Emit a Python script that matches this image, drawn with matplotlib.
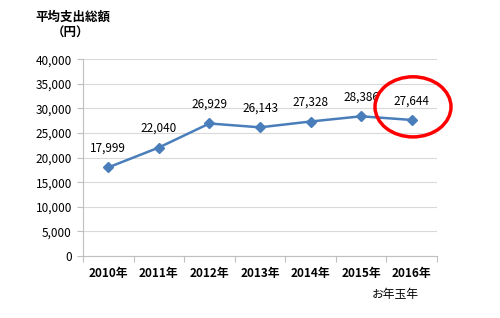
import matplotlib
matplotlib.use("Agg")
import matplotlib.pyplot as plt
from matplotlib.patches import Ellipse
from matplotlib.ticker import FuncFormatter

plt.rcParams['font.family'] = ['Noto Sans CJK JP', 'DejaVu Sans']

categories = ["2010年", "2011年", "2012年", "2013年", "2014年", "2015年", "2016年"]
values = [17999, 22040, 26929, 26143, 27328, 28386, 27644]
yticks = [0, 5000, 10000, 15000, 20000, 25000, 30000, 35000, 40000]
title = "平均支出総額"
unit = "（円）"
note = "お年玉年"

fig = plt.figure(figsize=(5, 3.18), dpi=100)
ax = fig.add_axes([0.166, 0.195, 0.708, 0.619])

x = list(range(len(categories)))
ax.plot(x, values, color="#4a7ebb", lw=1.8, marker="D", ms=5.5,
        markerfacecolor="#4a7ebb", markeredgecolor="#4a7ebb", zorder=3)
for xi, v in zip(x, values):
    ax.annotate(f"{v:,}", (xi, v), xytext=(0, 9), textcoords="offset points",
                ha="center", va="bottom", fontsize=8.5, color="#000000")

ax.set_xlim(-0.5, len(categories) - 0.5)
ax.set_ylim(0, 40000)
ax.set_yticks(yticks)
ax.yaxis.set_major_formatter(FuncFormatter(lambda v, p: f"{int(v):,}"))
ax.grid(axis="y", color="#d9d9d9", lw=0.8)
ax.set_axisbelow(True)

ax.set_xticks([i - 0.5 for i in range(len(categories) + 1)], minor=False)
ax.set_xticklabels([])
ax.set_xticks(x, minor=True)
ax.set_xticklabels(categories, minor=True, fontsize=8.5, fontweight="bold")
ax.tick_params(axis="x", which="minor", length=0, pad=8)
ax.tick_params(axis="x", which="major", length=4, color="#bfbfbf")
ax.tick_params(axis="y", length=4, color="#bfbfbf", labelsize=8.5, pad=4)

for s in ["top", "right"]:
    ax.spines[s].set_visible(False)
ax.spines["left"].set_color("#bfbfbf")
ax.spines["bottom"].set_color("#bfbfbf")

fig.text(0.146, 0.945, title, ha="center", va="center", fontsize=9, fontweight="bold")
fig.text(0.14, 0.895, unit, ha="center", va="center", fontsize=9, fontweight="bold")
fig.text(0.79, 0.075, note, ha="center", va="center", fontsize=8.5)

ell = Ellipse((0.826, 0.664), 0.152, 0.189, transform=fig.transFigure,
              fill=False, edgecolor="#ff0000", lw=2.5)
fig.add_artist(ell)

fig.savefig("out.png", dpi=100)
